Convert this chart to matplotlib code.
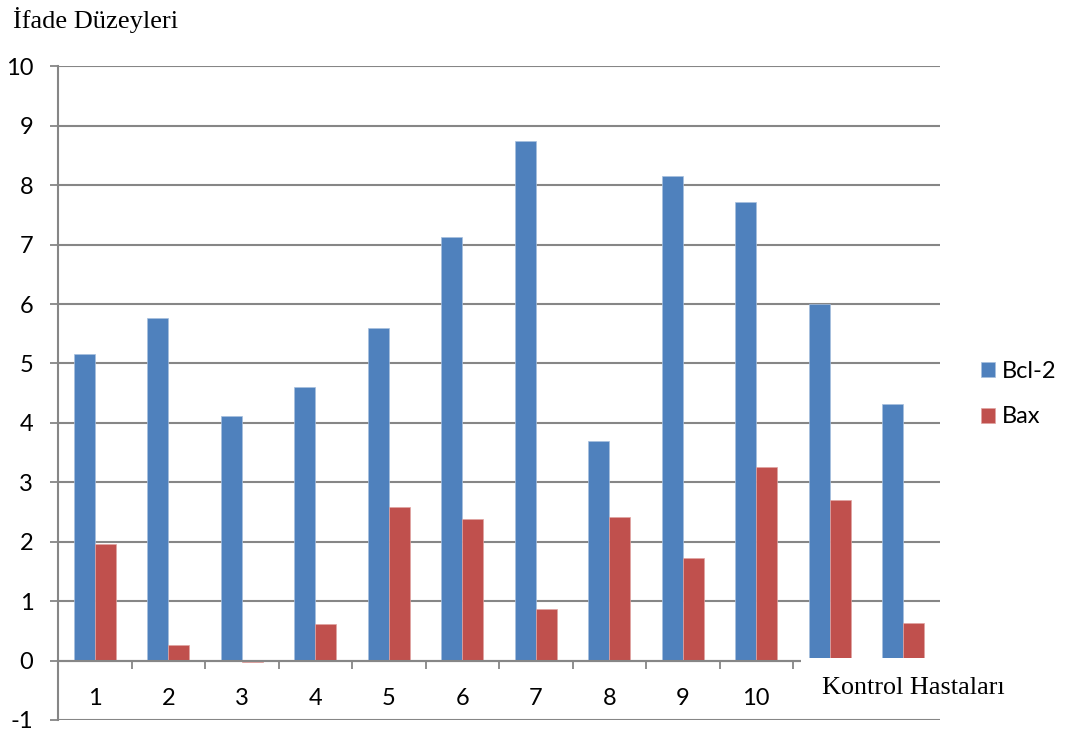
import matplotlib
matplotlib.use("Agg")
import matplotlib.pyplot as plt
import numpy as np
from matplotlib.patches import Rectangle

# ifade düzeyleri, 12 kontrol hastası
hastalar = np.arange(12)
etiketler = [str(i) for i in range(1, 11)]  # son iki hastanın etiketi yok
bcl2 = [5.16, 5.76, 4.12, 4.60, 5.60, 7.12, 8.75, 3.70, 8.15, 7.72, 6.00, 4.32]
bax = [1.96, 0.26, -0.03, 0.62, 2.58, 2.39, 0.87, 2.42, 1.73, 3.26, 2.70, 0.64]

mavi = '#4F81BD'
kirmizi = '#C0504D'
gri = '#868686'
sans = ['Lato', 'DejaVu Sans']
serif = ['Liberation Serif', 'DejaVu Serif']
plt.rcParams['axes.unicode_minus'] = False

fig = plt.figure(figsize=(10.7, 7.38), dpi=100)
ax = fig.add_axes([58/1070, 1 - 720/738, 882/1070, (720 - 66.3)/738])

w = 1 / 3.5  # gap width %150
ax.bar(hastalar - w/2, bcl2, w, color=mavi, edgecolor='#A7BFDE', linewidth=0.5, label='Bcl-2', zorder=2)
ax.bar(hastalar + w/2, bax, w, color=kirmizi, edgecolor='#E0A3A1', linewidth=0.5, label='Bax', zorder=2)

ax.set_xlim(-0.5, 11.5)
ax.set_ylim(-1, 10)
ax.set_axisbelow(True)

# y ekseni ve yatay ızgara
ax.set_yticks(range(-1, 11))
ax.yaxis.grid(True, color=gri, linewidth=1.5)
ax.tick_params(axis='y', direction='out', length=5.8, width=1.3, color=gri, pad=12)
for t in ax.get_yticklabels():
    t.set_family(sans)
    t.set_fontsize(17)

for s in ['top', 'right']:
    ax.spines[s].set_visible(False)
ax.spines['left'].set_color(gri)
ax.spines['left'].set_linewidth(1.5)

# kategori ekseni sıfırda
ax.spines['bottom'].set_position(('data', 0))
ax.spines['bottom'].set_color(gri)
ax.spines['bottom'].set_linewidth(1.5)
ax.set_xticks(np.arange(len(etiketler)) + 0.5)
ax.set_xticklabels([])
ax.set_xticks(np.arange(len(etiketler)), minor=True)
ax.set_xticklabels(etiketler, minor=True, family=sans, fontsize=17)
ax.tick_params(axis='x', which='major', direction='out', length=5.8, width=1.3, color=gri)
ax.tick_params(axis='x', which='minor', length=0, pad=20)

# eksen başlığının arka planı
ax.add_patch(Rectangle((9.61, -0.92), 3, 0.955, facecolor='white', edgecolor='none',
                       clip_on=False, zorder=3))
fig.text(822/1070, 1 - 688/738, 'Kontrol Hastaları', family=serif, fontsize=18.8,
         ha='left', va='center', zorder=4)
fig.text(13/1070, 1 - 20/738, 'İfade Düzeyleri', family=serif, fontsize=19,
         ha='left', va='center')

ax.legend(loc='center left', bbox_to_anchor=(981/1070, 1 - 394/738),
          bbox_transform=fig.transFigure, frameon=False, borderpad=0, borderaxespad=0,
          handlelength=0.6, handleheight=0.6, handletextpad=0.3, labelspacing=1.05,
          prop={'family': sans, 'size': 17})

fig.savefig('out.png', dpi=100)
